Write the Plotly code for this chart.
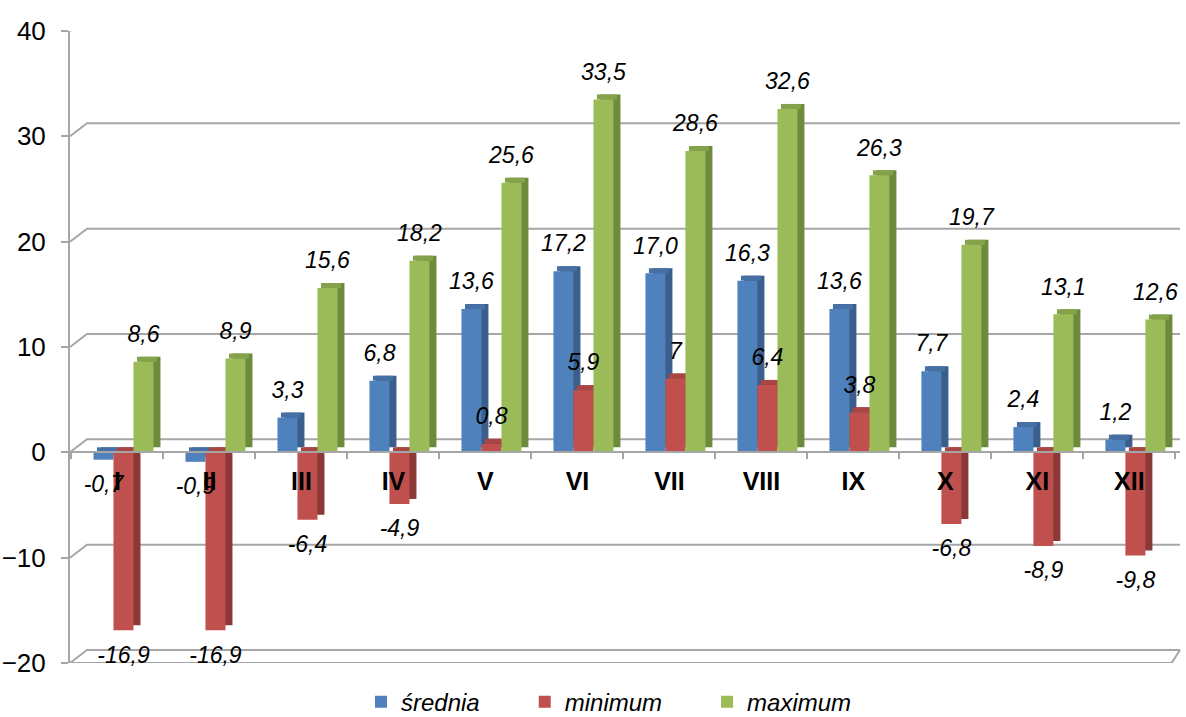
import plotly.graph_objects as go

# ---- data ----
months = ["I", "II", "III", "IV", "V", "VI", "VII", "VIII", "IX", "X", "XI", "XII"]
srednia = [-0.7, -0.9, 3.3, 6.8, 13.6, 17.2, 17.0, 16.3, 13.6, 7.7, 2.4, 1.2]
minimum = [-16.9, -16.9, -6.4, -4.9, 0.8, 5.9, 7, 6.4, 3.8, -6.8, -8.9, -9.8]
maximum = [8.6, 8.9, 15.6, 18.2, 25.6, 33.5, 28.6, 32.6, 26.3, 19.7, 13.1, 12.6]
y_ticks = [-20, -10, 0, 10, 20, 30, 40]


def fmt(v):
    if isinstance(v, int):
        return str(v)
    return f"{v:.1f}".replace(".", ",")


# ---- geometry / style ----
W, H = 1186, 717
ML, MR, MT, MB = 70, 6, 31, 54
XR = [-0.516, 11.55]
YR = [-20, 40]
plot_w = W - ML - MR
plot_h = H - MT - MB
px_x = (XR[1] - XR[0]) / plot_w      # data units per pixel (x)
px_y = (YR[1] - YR[0]) / plot_h      # data units per pixel (y)

bar_w = 20 * px_x
side_dx = 7 * px_x
side_dy = 5 * px_y
FONT = "Liberation Sans, Arial, sans-serif"
GRID = "#a6a6a6"

series = [
    ("średnia", srednia, -24 * px_x, "#4F81BD", "#466FA3", "#3A5F8C", 6),
    ("minimum", minimum, -4 * px_x, "#C0504D", "#A94543", "#8A3936", 6),
    ("maximum", maximum, 16 * px_x, "#9BBB59", "#84A24A", "#6E8A3C", 0),
]

x = list(range(len(months)))
fig = go.Figure()

for name, vals, off, front, top, side, pad in series:
    # side face (shifted right and up)
    fig.add_trace(go.Bar(
        x=x, y=vals, base=[side_dy] * len(vals), offset=off + side_dx, width=bar_w,
        marker=dict(color=side, line=dict(width=0)), showlegend=False, hoverinfo="skip"))
    # top face
    fig.add_trace(go.Bar(
        x=x, y=[side_dy] * len(vals), base=[max(v, 0) for v in vals],
        offset=off + side_dx / 2, width=bar_w,
        marker=dict(color=top, line=dict(width=0)), showlegend=False, hoverinfo="skip"))
    # front face
    fig.add_trace(go.Bar(
        x=x, y=vals, offset=off, width=bar_w, name=name + "\u00a0" * pad,
        marker=dict(color=front, line=dict(width=0)), hoverinfo="skip"))

# data labels on top of everything
for name, vals, off, front, top, side, pad in series:
    fig.add_trace(go.Scatter(
        x=[i + off + bar_w / 2 for i in x],
        y=[v + 14 * px_y if v >= 0 else v - 15 * px_y for v in vals],
        mode="text", text=[fmt(v) for v in vals],
        textposition=["top center" if v >= 0 else "bottom center" for v in vals],
        textfont=dict(family=FONT, size=23, color="black", style="italic"),
        showlegend=False, hoverinfo="skip", cliponaxis=False))

# 3D-like back wall gridlines
shapes = []
gx = 17 / plot_w
gy = 13 * px_y
for t in y_ticks:
    shapes.append(dict(
        type="path", xref="paper", yref="y", layer="below",
        path=f"M 0 {t} L {gx} {t + gy} L 1 {t + gy}",
        line=dict(color=GRID, width=2)))
# floor front edge at the bottom
shapes.append(dict(type="line", xref="paper", yref="y", layer="below",
                   x0=0, x1=1 - gx / 2, y0=YR[0], y1=YR[0],
                   line=dict(color=GRID, width=2)))
shapes.append(dict(type="line", xref="paper", yref="y", layer="below",
                   x0=1 - gx / 2, x1=1, y0=YR[0], y1=YR[0] + gy,
                   line=dict(color=GRID, width=2)))

fig.update_layout(
    width=W, height=H,
    margin=dict(l=ML, r=MR, t=MT, b=MB, autoexpand=False),
    paper_bgcolor="white", plot_bgcolor="white",
    barmode="overlay",
    shapes=shapes,
    font=dict(family=FONT, color="black"),
    xaxis=dict(
        range=XR, showgrid=False, zeroline=False, automargin=False,
        anchor="free", position=(0 - YR[0]) / (YR[1] - YR[0]),
        showline=True, linecolor=GRID, linewidth=2,
        tickmode="array", tickvals=x, ticktext=months, ticks="",
        tickfont=dict(family=FONT, size=25, color="black", weight="bold"),
        ticklabelstandoff=7,
        minor=dict(tickmode="array", tickvals=[i - 0.5 for i in range(len(months) + 1)],
                   ticks="outside", ticklen=6, tickwidth=2, tickcolor=GRID, showgrid=False),
    ),
    yaxis=dict(
        range=YR, showgrid=False, zeroline=False, automargin=False,
        tickmode="array", tickvals=y_ticks,
        ticks="outside", ticklen=7, tickwidth=2, tickcolor=GRID,
        showline=True, linecolor=GRID, linewidth=2,
        tickfont=dict(family=FONT, size=26, color="black"),
        ticklabelstandoff=10,
    ),
    legend=dict(
        orientation="h", x=(609 - ML) / plot_w, xanchor="center",
        y=-0.062, yanchor="middle",
        font=dict(family=FONT, size=24, color="black", style="italic"),
        itemclick=False, bgcolor="rgba(0,0,0,0)",
    ),
)

fig.write_html(
    "out.html",
    config={"displayModeBar": False},
    post_script="document.body.style.margin='0';document.body.style.padding='0';"
                "document.body.style.overflow='hidden';",
)
